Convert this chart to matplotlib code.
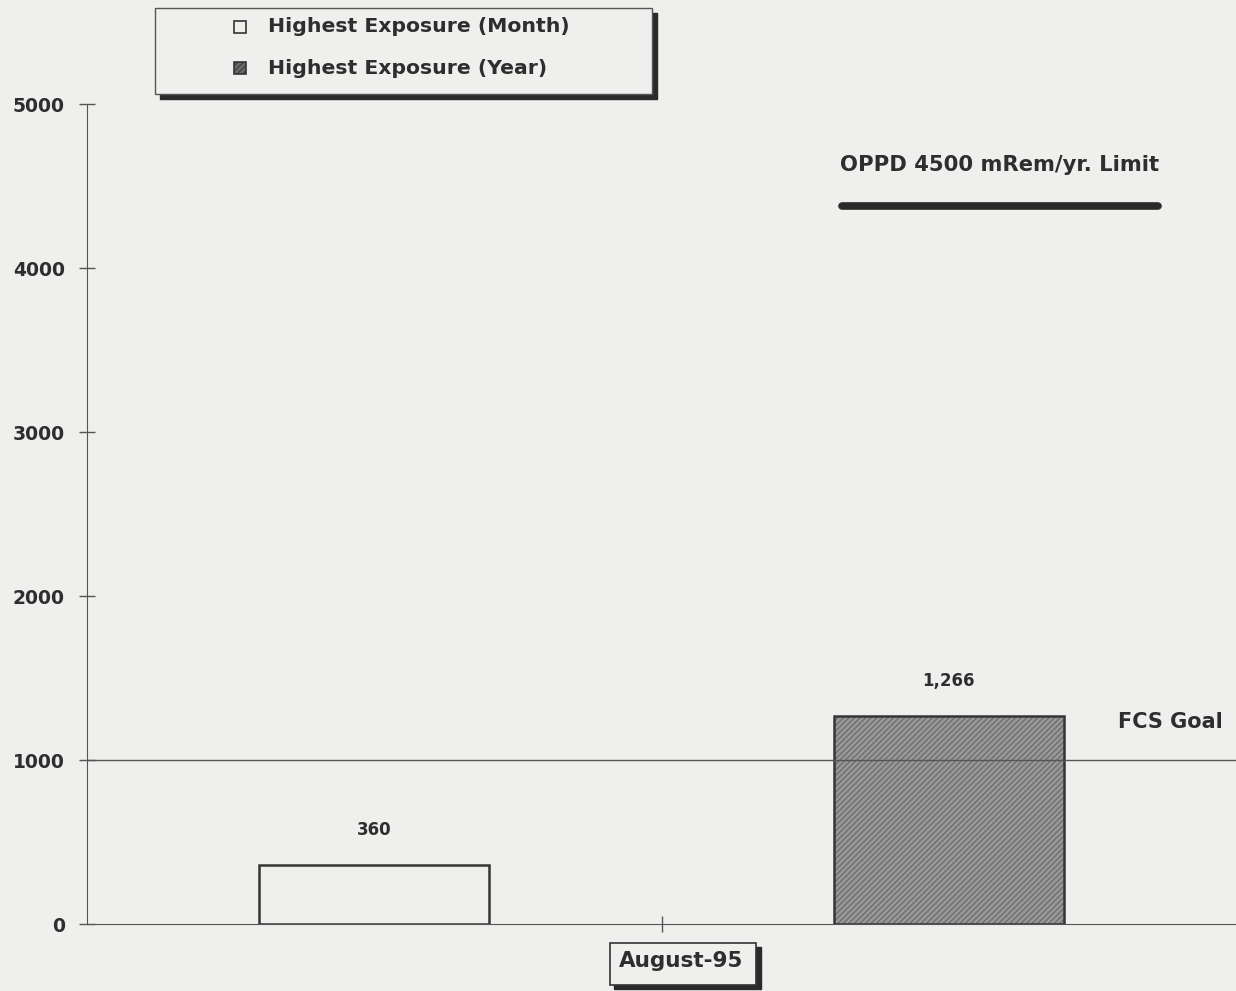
import matplotlib.pyplot as plt
from matplotlib.patches import Rectangle

plt.rcParams['font.family'] = ['DejaVu Sans']
plt.rcParams['hatch.linewidth'] = 0.7

# Exposure data (mRem)
period = "August-95"
series = ["Highest Exposure (Month)", "Highest Exposure (Year)"]
values = [360, 1266]
value_labels = ["360", "1,266"]
goal = 1000
limit_text = "OPPD 4500 mRem/yr. Limit"

bg = '#efefed'
ink = '#2e2e2e'
W, H = 1236, 991

def fbox(x, y, w, h, **kw):
    # rectangle given in pixel coords from top-left
    r = Rectangle((x / W, 1 - (y + h) / H), w / W, h / H,
                  transform=fig.transFigure, **kw)
    fig.patches.append(r)
    return r

fig = plt.figure(figsize=(W / 100, H / 100), dpi=100, facecolor=bg)
ax = fig.add_axes([87 / W, 1 - 924 / H, 1 - 87 / W, (924 - 104) / H])
ax.set_facecolor(bg)

xpos = [0.25, 0.75]
fills = [bg, '#979797']
hatches = [None, '//////']
for x, v, fc, ht, name in zip(xpos, values, fills, hatches, series):
    # fill + hatch, then a dark outline on top
    ax.bar(x, v, width=0.2, facecolor=fc, edgecolor='#626262', hatch=ht,
           linewidth=0, zorder=3, label=name)
    ax.bar(x, v, width=0.2, fill=False, edgecolor='#353535', linewidth=1.8,
           zorder=4)

for x, v, lab in zip(xpos, values, value_labels):
    ax.text(x, v + 215, lab, ha='center', va='center', fontsize=12,
            fontweight='bold', color=ink)

# FCS goal line
ax.axhline(goal, color='#555555', linewidth=1.0, zorder=5)
ax.text(0.943, goal + 232, "FCS Goal", ha='center', va='center', fontsize=15,
        fontweight='bold', color=ink, transform=ax.get_yaxis_transform())

# limit annotation
ax.text(0.7946, 0.9256, limit_text, transform=ax.transAxes, ha='center',
        va='center', fontsize=15.2, fontweight='bold', color=ink)
ax.plot([0.657, 0.932], [0.8756, 0.8756], transform=ax.transAxes,
        color='#2a2a2a', linewidth=5.5, solid_capstyle='round')

ax.set_xlim(0, 1)
ax.set_ylim(0, 5000)
ax.set_yticks([0, 1000, 2000, 3000, 4000, 5000])
ax.set_yticklabels([str(t) for t in ax.get_yticks().astype(int)],
                   fontsize=13.5, fontweight='bold', color=ink)
ax.set_xticks([0.5])
ax.set_xticklabels([])
ax.tick_params(axis='both', direction='inout', length=12, width=1.0,
               color='#555555')
ax.tick_params(axis='y', pad=10)
for s in ['top', 'right']:
    ax.spines[s].set_visible(False)
ax.spines['left'].set_color('#555555')
ax.spines['bottom'].set_color('#555555')

# category label in a shadowed box
fbox(614, 947, 147, 42, color='#2a2a2a', zorder=1)
fbox(610, 943, 146, 42, facecolor=bg, edgecolor='#333333', linewidth=1.2, zorder=2)
fig.text(681 / W, 1 - 961 / H, period, ha='center', va='center', fontsize=15.5,
         fontweight='bold', color=ink, zorder=3)

# legend box
fbox(160, 13, 497, 86, color='#2a2a2a', zorder=1)
fbox(155, 8, 497, 86, facecolor=bg, edgecolor='#555555', linewidth=1.0, zorder=2)
for i, (name, fc, ht) in enumerate(zip(series, fills, hatches)):
    yc = 27 + 41 * i
    fbox(234, yc - 6, 12, 12, facecolor=fc if ht is None else '#6a6a6a',
         edgecolor='#333333', hatch=ht, linewidth=1.2, zorder=3)
    fig.text(268 / W, 1 - yc / H, name, ha='left', va='center', fontsize=14.7,
             fontweight='bold', color=ink, zorder=4)

fig.savefig('out.png', dpi=100, facecolor=bg)
